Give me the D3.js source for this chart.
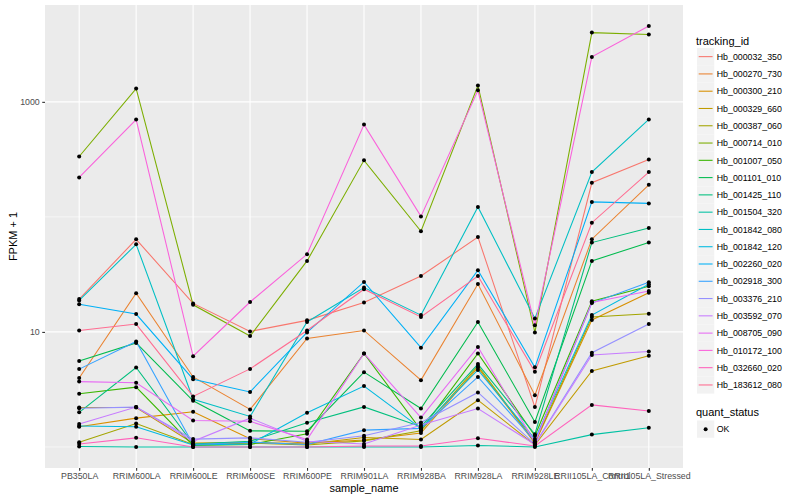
<!DOCTYPE html>
<html>
<head>
<meta charset="utf-8">
<script src="https://cdn.jsdelivr.net/npm/d3@7"></script>
<style>
  body { margin: 0; background: #fff; }
  text { font-family: "Liberation Sans", Arial, sans-serif; }
</style>
</head>
<body>
<svg id="chart" width="800" height="500"></svg>
<script>
// samples on the x axis
const samples = ["PB350LA", "RRIM600LA", "RRIM600LE", "RRIM600SE", "RRIM600PE", "RRIM901LA",
  "RRIM928BA", "RRIM928LA", "RRIM928LE", "RRII105LA_Control", "RRII105LA_Stressed"];

const trackingIds = ["Hb_000032_350", "Hb_000270_730", "Hb_000300_210", "Hb_000329_660", "Hb_000387_060",
  "Hb_000714_010", "Hb_001007_050", "Hb_001101_010", "Hb_001425_110", "Hb_001504_320",
  "Hb_001842_080", "Hb_001842_120", "Hb_002260_020", "Hb_002918_300", "Hb_003376_210",
  "Hb_003592_070", "Hb_008705_090", "Hb_010172_100", "Hb_032660_020", "Hb_183612_080"];

// FPKM + 1, one row per tracking_id, in sample order
const fpkmPlus1 = [
  [19.3, 63.8, 17.7, 10.1, 12.6, 18.0, 30.6, 66.7, 2.22, 198, 316],
  [3.97, 21.7, 4.06, 2.12, 8.76, 10.3, 3.81, 26.1, 2.82, 64, 190],
  [1.5, 1.78, 2.02, 1.18, 1.08, 1.15, 1.32, 4.9, 1.08, 12.7, 21.9],
  [2.2, 2.2, 1.08, 1.1, 1.06, 1.21, 1.16, 2.55, 1.04, 4.58, 6.2],
  [1.1, 1.6, 1.05, 1.08, 1.04, 1.13, 1.38, 5.06, 1.1, 13.5, 14.4],
  [335, 1304, 17.2, 9.2, 41.4, 310, 75, 1384, 9.9, 4000, 3850],
  [2.9, 3.31, 1.03, 1.05, 1.3, 6.5, 1.4, 6.5, 1.25, 18.5, 24.9],
  [5.6, 8.03, 2.52, 1.38, 1.37, 4.47, 2.16, 12.2, 1.65, 41.4, 60],
  [2.0, 4.91, 1.06, 1.12, 1.62, 2.23, 1.5, 5.25, 1.29, 59.8, 79.9],
  [1.01, 1.0, 1.0, 1.0, 1.0, 1.0, 1.0, 1.03, 1.0, 1.28, 1.47],
  [18.8, 57.7, 2.6, 1.84, 12.2, 24.3, 14.0, 122, 13.1, 245, 703],
  [1.52, 1.5, 1.04, 1.06, 1.98, 3.38, 1.45, 4.67, 1.17, 14.0, 26],
  [17.4, 14.3, 3.88, 3.01, 9.9, 27.2, 7.3, 34.4, 4.92, 135, 131],
  [4.75, 8.25, 1.05, 1.1, 1.05, 1.4, 1.45, 4.06, 1.12, 17.8, 27],
  [2.17, 2.22, 1.17, 1.2, 1.1, 1.25, 1.63, 2.98, 1.06, 6.6, 11.7],
  [1.58, 2.22, 1.12, 1.78, 1.12, 1.06, 1.55, 2.16, 1.05, 6.3, 6.76],
  [3.7, 3.61, 1.7, 1.67, 1.16, 6.5, 1.8, 7.4, 1.1, 18.0, 22.7],
  [220, 702, 6.16, 18.2, 47.3, 634, 101, 1260, 11.4, 2460, 4560],
  [1.06, 1.2, 1.0, 1.0, 1.0, 1.02, 1.02, 1.19, 1.02, 2.32, 2.05],
  [10.3, 11.7, 2.75, 4.77, 10.3, 23.5, 13.5, 30.6, 4.5, 89, 245]
];

const quantStatus = ["OK"];
const yTicks = [10, 1000];
const yMinor = [1, 100];

// ggplot default hue palette for 20 levels
const palette = ["#F8766D", "#EA8331", "#D89000", "#C09B00", "#A3A500", "#7CAE00", "#39B600", "#00BB4E",
  "#00BF7D", "#00C1A3", "#00BFC4", "#00BAE0", "#00B0F6", "#35A2FF", "#9590FF", "#C77CFF",
  "#E76BF3", "#FA62DB", "#FF62BC", "#FF6C91"];

const series = trackingIds.map((id, i) => ({
  id: id,
  values: samples.map((s, j) => ({sample: s, v: fpkmPlus1[i][j]}))
}));

const svg = d3.select("#chart");
const panel = {left: 45, right: 683, top: 5, bottom: 468};

const x = d3.scalePoint().domain(samples).range([panel.left, panel.right]).padding(0.6);

// log scale with ggplot-like 5% expansion in log space
const allVals = fpkmPlus1.flat();
const lo = Math.log10(d3.min(allVals)), hi = Math.log10(d3.max(allVals));
const pad = (hi - lo) * 0.05;
const y = d3.scaleLog().domain([10 ** (lo - pad), 10 ** (hi + pad)]).range([panel.bottom, panel.top]);

const color = d3.scaleOrdinal().domain(trackingIds).range(palette);

// panel background + grid
svg.append("rect")
  .attr("x", panel.left).attr("y", panel.top)
  .attr("width", panel.right - panel.left).attr("height", panel.bottom - panel.top)
  .attr("fill", "#EBEBEB");

svg.append("g").selectAll("line").data(yMinor).join("line")
  .attr("x1", panel.left).attr("x2", panel.right)
  .attr("y1", d => y(d)).attr("y2", d => y(d))
  .attr("stroke", "#fff").attr("stroke-width", 0.55);

svg.append("g").selectAll("line").data(yTicks).join("line")
  .attr("x1", panel.left).attr("x2", panel.right)
  .attr("y1", d => y(d)).attr("y2", d => y(d))
  .attr("stroke", "#fff").attr("stroke-width", 1.1);

svg.append("g").selectAll("line").data(samples).join("line")
  .attr("x1", d => x(d)).attr("x2", d => x(d))
  .attr("y1", panel.top).attr("y2", panel.bottom)
  .attr("stroke", "#fff").attr("stroke-width", 1.1);

// axes
const xAxis = svg.append("g")
  .attr("transform", `translate(0,${panel.bottom})`)
  .call(d3.axisBottom(x).tickSize(2.75).tickPadding(2.5));
const yAxis = svg.append("g")
  .attr("transform", `translate(${panel.left},0)`)
  .call(d3.axisLeft(y).tickValues(yTicks).tickFormat(d3.format("d")).tickSize(2.75).tickPadding(2.5));

[xAxis, yAxis].forEach(g => {
  g.select(".domain").remove();
  g.selectAll(".tick line").attr("stroke", "#333333").attr("stroke-width", 1.1);
  g.selectAll(".tick text").attr("fill", "#4D4D4D").attr("font-size", "8.8px")
    .attr("font-family", '"Liberation Sans", Arial, sans-serif');
});

// lines then points
const line = d3.line().x(d => x(d.sample)).y(d => y(d.v));

svg.append("g").selectAll("path").data(series).join("path")
  .attr("d", d => line(d.values))
  .attr("fill", "none")
  .attr("stroke", d => color(d.id))
  .attr("stroke-width", 1.07);

svg.append("g").selectAll("circle")
  .data(series.flatMap(s => s.values))
  .join("circle")
  .attr("cx", d => x(d.sample))
  .attr("cy", d => y(d.v))
  .attr("r", 2)
  .attr("fill", "#000");

// axis titles
svg.append("text")
  .attr("x", (panel.left + panel.right) / 2).attr("y", 492)
  .attr("text-anchor", "middle").attr("font-size", "11px").attr("fill", "#000")
  .text("sample_name");

svg.append("text")
  .attr("transform", `translate(17,${(panel.top + panel.bottom) / 2}) rotate(-90)`)
  .attr("text-anchor", "middle").attr("font-size", "11px").attr("fill", "#000")
  .text("FPKM + 1");

// legend: tracking_id
const legend = svg.append("g").attr("transform", "translate(696,0)");
legend.append("text").attr("x", 0).attr("y", 44.5).attr("font-size", "11px").text("tracking_id");

const keyH = 17.28, keyTop = 48;
const items = legend.selectAll("g.item").data(trackingIds).join("g")
  .attr("class", "item")
  .attr("transform", (d, i) => `translate(0,${keyTop + i * keyH})`);
items.append("rect").attr("x", 1).attr("y", 0).attr("width", keyH).attr("height", keyH)
  .attr("fill", "#F2F2F2");
items.append("line").attr("x1", 2.7).attr("x2", keyH - 0.7)
  .attr("y1", keyH / 2).attr("y2", keyH / 2)
  .attr("stroke", d => color(d)).attr("stroke-width", 1.07);
items.append("text").attr("x", keyH + 3.5).attr("y", keyH / 2 + 3.2)
  .attr("font-size", "8.8px").attr("fill", "#000").text(d => d);

// legend: quant_status
const legend2 = svg.append("g").attr("transform", "translate(696,0)");
legend2.append("text").attr("x", 0).attr("y", 416).attr("font-size", "11px").text("quant_status");
const q = legend2.selectAll("g.q").data(quantStatus).join("g")
  .attr("class", "q")
  .attr("transform", (d, i) => `translate(0,${420.5 + i * keyH})`);
q.append("rect").attr("x", 1).attr("y", 0).attr("width", keyH).attr("height", keyH).attr("fill", "#F2F2F2");
q.append("circle").attr("cx", 1 + keyH / 2).attr("cy", keyH / 2).attr("r", 2).attr("fill", "#000");
q.append("text").attr("x", keyH + 3.5).attr("y", keyH / 2 + 3.2).attr("font-size", "8.8px").text(d => d);
</script>
</body>
</html>
